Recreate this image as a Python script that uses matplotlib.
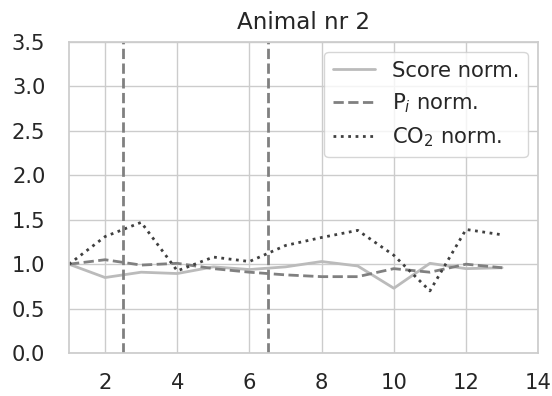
import matplotlib
matplotlib.use("Agg")
import matplotlib.pyplot as plt
import seaborn as sns

# ----------------------------
# Data
# ----------------------------
days = [1, 2, 3, 4, 5, 6, 7, 8, 9, 10, 11, 12, 13]
score_norm = [1.0, 0.85, 0.91, 0.895, 0.97, 0.94, 0.97, 1.03, 0.98, 0.73, 1.01, 0.95, 0.96]
pi_norm = [1.0, 1.05, 0.99, 1.01, 0.95, 0.91, 0.88, 0.86, 0.86, 0.95, 0.91, 1.0, 0.96]
co2_norm = [1.0, 1.31, 1.47, 0.925, 1.08, 1.03, 1.21, 1.30, 1.38, 1.10, 0.70, 1.39, 1.33]
event_days = [2.5, 6.5]

# ----------------------------
# Plot
# ----------------------------
sns.set_theme(style="whitegrid", font_scale=1.38)

fig, ax = plt.subplots(figsize=(5.52, 3.96), dpi=100)
ax.plot(days, score_norm, color="#bbbbbb", linestyle="-", lw=2, label="Score norm.")
ax.plot(days, pi_norm, color="#808080", linestyle="--", lw=2, label="P$_i$ norm.")
ax.plot(days, co2_norm, color="#404040", linestyle=":", lw=2, label="CO$_2$ norm.")
for d in event_days:
    ax.axvline(d, color="#808080", linestyle="--", lw=2)

ax.set_xlim(1, 14)
ax.set_ylim(0, 3.5)
ax.set_xticks([2, 4, 6, 8, 10, 12, 14])
ax.tick_params(axis="x", pad=8)
ax.tick_params(axis="y", pad=11)
ax.set_title("Animal nr 2", pad=9)
ax.legend(loc="upper right")

fig.subplots_adjust(left=0.125, right=0.975, top=0.895, bottom=0.108)
fig.savefig("out.png", dpi=100)
